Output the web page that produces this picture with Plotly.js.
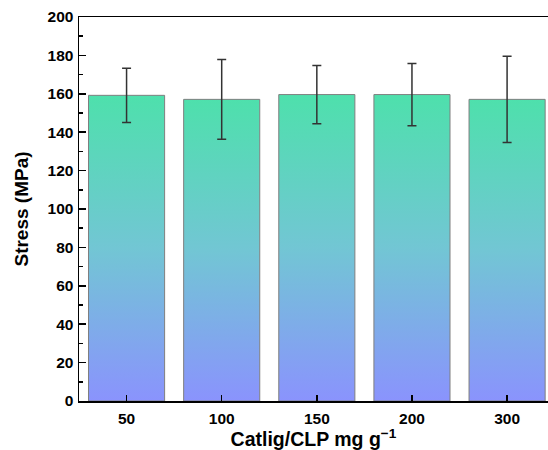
<!DOCTYPE html>
<html>
<head>
<meta charset="utf-8">
<script src="https://cdn.plot.ly/plotly-3.0.1.min.js"></script>
<style>html,body{margin:0;padding:0;background:#fff;}#chart{width:548px;height:450px;}</style>
</head>
<body>
<div id="chart"></div>
<script>
const categories = ["50", "100", "150", "200", "300"];
const stress = [159.2, 157.1, 159.6, 159.6, 157.1];
const stressErr = [14.1, 20.8, 15.2, 16.2, 22.4];
const yTicks = [0, 20, 40, 60, 80, 100, 120, 140, 160, 180, 200];

const FONT = "Liberation Sans, Arial, sans-serif";

const trace = {
  type: "bar",
  x: categories,
  y: stress,
  width: 0.8,
  marker: { color: "#6fc8d0", line: { color: "#7f7f7f", width: 1 } },
  error_y: { type: "data", array: stressErr, visible: true, color: "#333333", thickness: 1.5, width: 4.5 },
  hoverinfo: "none"
};

const layout = {
  width: 548, height: 450,
  margin: { l: 79, r: 0, t: 17, b: 49 },
  paper_bgcolor: "#ffffff", plot_bgcolor: "#ffffff",
  showlegend: false,
  font: { family: FONT, color: "#000", size: 15 },
  xaxis: {
    type: "category",
    range: [-0.5, 4.43],
    showline: true, linecolor: "#000", linewidth: 1.5, mirror: true,
    ticks: "inside", ticklen: 6, tickwidth: 1.5, tickcolor: "#000",
    minor: { ticks: "inside", ticklen: 3, tickwidth: 1.5, tickcolor: "#000" },
    tickfont: { family: FONT, size: 15.5, weight: "bold", color: "#000" },
    ticklabelstandoff: 3,
    showgrid: false, zeroline: false,
    title: { text: "<b>Catlig/CLP mg g<sup>−1</sup></b>", font: { family: FONT, size: 19.5, color: "#000" }, standoff: 3 }
  },
  yaxis: {
    range: [0, 200],
    tickvals: yTicks,
    showline: true, linecolor: "#000", linewidth: 1.5, mirror: false,
    ticks: "inside", ticklen: 7, tickwidth: 1.5, tickcolor: "#000",
    minor: { dtick: 10, ticks: "inside", ticklen: 3.5, tickwidth: 1.5, tickcolor: "#000" },
    tickfont: { family: FONT, size: 15.5, weight: "bold", color: "#000" },
    ticklabelstandoff: 1,
    showgrid: false, zeroline: false,
    title: { text: "<b>Stress (MPa)</b>", font: { family: FONT, size: 19, color: "#000" }, standoff: 14 }
  }
};

Plotly.newPlot("chart", [trace], layout, { staticPlot: true, displayModeBar: false }).then(function (gd) {
  const svg = gd.querySelector("svg.main-svg");
  const ns = "http://www.w3.org/2000/svg";
  let defs = svg.querySelector("defs");
  if (!defs) { defs = document.createElementNS(ns, "defs"); svg.insertBefore(defs, svg.firstChild); }
  const grad = document.createElementNS(ns, "linearGradient");
  grad.setAttribute("id", "barGrad");
  grad.setAttribute("x1", "0"); grad.setAttribute("y1", "0");
  grad.setAttribute("x2", "0"); grad.setAttribute("y2", "1");
  [["0", "#4ee0ac"], ["0.5", "#72c6d4"], ["1", "#8a93fd"]].forEach(function (s) {
    const st = document.createElementNS(ns, "stop");
    st.setAttribute("offset", s[0]);
    st.setAttribute("stop-color", s[1]);
    grad.appendChild(st);
  });
  defs.appendChild(grad);
  gd.querySelectorAll(".bars .point path").forEach(function (p) {
    p.style.fill = "url(#barGrad)";
    p.style.fillOpacity = "1";
  });
});
</script>
</body>
</html>
